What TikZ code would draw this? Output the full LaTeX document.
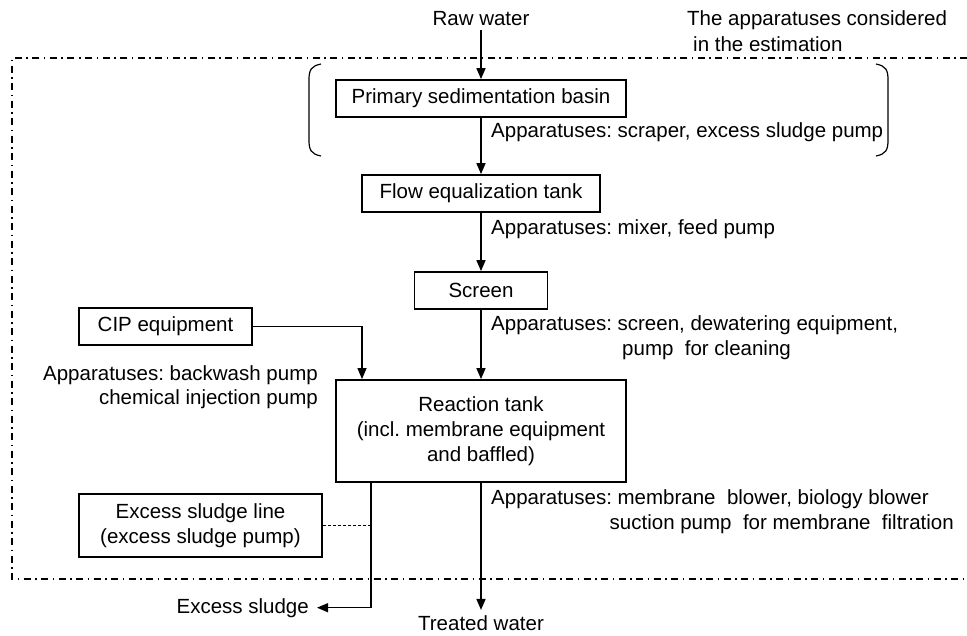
\documentclass[tikz,border=0pt]{standalone}
\usepackage{fontspec}
\setmainfont{Liberation Sans}
\usetikzlibrary{arrows.meta}
\frenchspacing
\begin{document}
\begin{tikzpicture}[x=1pt,y=-1pt,
 txt/.style={font=\fontsize{20.5}{25}\selectfont, inner sep=0pt},
 box/.style={draw, line width=1.8pt, txt, minimum height=37pt, align=center},
 flowarrow/.style={line width=1.6pt, -{Triangle[length=11pt,width=9pt]}},
 thinline/.style={line width=1.1pt},
 thinarrow/.style={line width=1.2pt, -{Triangle[length=11pt,width=9pt]}},
 zone/.style={line width=1.6pt, dash pattern=on 7pt off 4.5pt on 1.5pt off 4.5pt},
 brace/.style={line width=1.2pt}]
\useasboundingbox (0,0) rectangle (967,635);

% zone of apparatuses considered
\draw[zone] (967,58) -- (12,58) -- (12,579) -- (967,579);

% brackets around primary sedimentation
\draw[brace] (321,64) .. controls (311,66) and (309,70) .. (309,80) -- (309,140) .. controls (309,150) and (311,154) .. (321,156);
\draw[brace] (876,64) .. controls (886,66) and (888,70) .. (888,80) -- (888,140) .. controls (888,150) and (886,154) .. (876,156);

% texts
\node[txt, anchor=base] (raw) at (481,25) {Raw water};
\node[txt, anchor=base west] (cons1) at (687,25) {The apparatuses considered};
\node[txt, anchor=base west] (cons2) at (693,51) {in the estimation};

% boxes
\node[box, minimum width=290pt] (prim) at (481,98.5) {Primary sedimentation basin};
\node[box, minimum width=238pt] (flow) at (481,193.5) {Flow equalization tank};
\node[box, minimum width=133pt] (scr) at (481,290.5) {Screen};
\node[box, minimum width=290pt, minimum height=102pt] (rt) at (481,431) {Reaction tank\\(incl. membrane equipment\\and baffled)};
\node[box, minimum width=173pt] (cip) at (165.5,326.5) {CIP equipment};
\node[box, minimum width=243pt, minimum height=63pt] (esl) at (200.5,525.5) {Excess sludge line\\(excess sludge pump)};

% apparatus labels
\node[txt, anchor=base west] (a1) at (491,137) {Apparatuses: scraper, excess sludge pump};
\node[txt, anchor=base west] (a2) at (491,234) {Apparatuses: mixer, feed pump};
\node[txt, anchor=base west] (a3) at (491,330) {Apparatuses: screen, dewatering equipment,};
\node[txt, anchor=base west] (a3b) at (622,355) {pump\ \ for cleaning};
\node[txt, anchor=base east] (a4) at (318,380) {Apparatuses: backwash pump};
\node[txt, anchor=base east] (a4b) at (318,404) {chemical injection pump};
\node[txt, anchor=base west] (a5) at (491,504) {Apparatuses: membrane\ \ blower, biology blower};
\node[txt, anchor=base east] (a5b) at (954,529) {suction pump\ \ for membrane\ \ filtration};

% outputs
\node[txt, anchor=base east] (exs) at (309,613) {Excess sludge};
\node[txt, anchor=base] (tw) at (481,630) {Treated water};

% connectors
\draw[flowarrow] ([yshift=-5pt]raw.south) -- (prim.north);
\draw[flowarrow] (prim.south) -- (flow.north);
\draw[flowarrow] (flow.south) -- (scr.north);
\draw[flowarrow] (scr.south) -- (rt.north);
\draw[thinarrow] (cip.east) -| ([xshift=-119pt]rt.north);
\coordinate (es) at ([xshift=-110pt]rt.south);
\draw[thinarrow, shorten >=8pt] (es) |- (exs.east);
\draw[line width=0.9pt, dash pattern=on 3pt off 2pt] (esl.east) -- (esl.east -| es);
\draw[flowarrow] (rt.south) -- ([yshift=5pt]tw.north);
\end{tikzpicture}
\end{document}
